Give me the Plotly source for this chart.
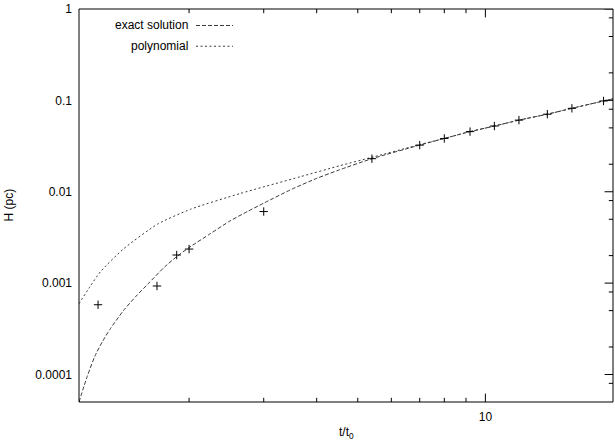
import plotly.graph_objects as go

# ---- data ----
exact_t = [1.10, 1.15, 1.20, 1.25, 1.30, 1.40, 1.50, 1.60, 1.75, 1.87, 2.0, 2.25, 2.5, 2.75, 3.0,
           3.5, 4.0, 4.5, 5.4, 7.0, 8.0, 9.2, 10.5, 12.0, 14.0, 16.0, 19.0, 20.0]
exact_H = [5.0e-5, 9.5e-5, 1.6e-4, 2.3e-4, 3.1e-4, 5.0e-4, 7.2e-4, 9.8e-4, 1.5e-3, 1.95e-3, 2.45e-3,
           3.5e-3, 4.8e-3, 6.1e-3, 7.5e-3, 0.0107, 0.0140, 0.0172, 0.0230, 0.0324, 0.0383, 0.0455,
           0.0524, 0.0608, 0.0706, 0.0819, 0.0985, 0.104]

poly_t = [1.10, 1.172, 1.237, 1.401, 1.685, 2.015, 2.64, 3.66, 4.54, 5.43, 7.0, 8.0, 9.2, 10.5,
          12.0, 14.0, 16.0, 19.0, 20.0]
poly_H = [5.96e-4, 9.4e-4, 1.34e-3, 2.37e-3, 4.42e-3, 6.43e-3, 9.57e-3, 0.0146, 0.0193, 0.0240,
          0.0328, 0.0383, 0.0455, 0.0524, 0.0608, 0.0706, 0.0819, 0.0985, 0.104]

data_t = [1.1, 1.22, 1.68, 1.87, 2.0, 3.0, 5.4, 7.0, 8.0, 9.2, 10.5, 12.0, 14.0, 16.0, 19.0]
data_H = [3.7e-4, 5.8e-4, 9.3e-4, 2.03e-3, 2.36e-3, 6.07e-3, 0.0230, 0.0324, 0.0383, 0.0455,
          0.0524, 0.0608, 0.0706, 0.0819, 0.0985]

x_major = [10]
x_major_text = ["10"]
x_minor = [2, 3, 4, 5, 6, 7, 8, 9]
y_major = [1e-4, 1e-3, 1e-2, 1e-1, 1]
y_major_text = ["0.0001", "0.001", "0.01", "0.1", "1"]
y_minor = [8e-5, 2e-4, 5e-4, 8e-4, 2e-3, 5e-3, 8e-3, 0.02, 0.05, 0.08, 0.2, 0.5, 0.8]

legend_labels = ["exact solution", "polynomial"]

# ---- figure ----
W, H = 615, 441
L, R, T, B = 79, 2, 4, 39
pw, ph = W - L - R, H - T - B
x_lo, x_hi = 1.1, 20.0
y_lo, y_hi = 5e-5, 1.0
x_range = [0.041393, 1.30103]
y_range = [-4.30103, 0.0]

exact_dash = "4px,2px"
poly_dash = "2px,2.5px"
line_col = "#3a3a3a"

fig = go.Figure()
fig.add_trace(go.Scatter(x=exact_t, y=exact_H, mode="lines", name=legend_labels[0],
                         line=dict(color=line_col, width=1, dash=exact_dash, shape="spline", smoothing=0.6),
                         showlegend=False, hoverinfo="skip"))
fig.add_trace(go.Scatter(x=poly_t, y=poly_H, mode="lines", name=legend_labels[1],
                         line=dict(color=line_col, width=1, dash=poly_dash, shape="spline", smoothing=0.6),
                         showlegend=False, hoverinfo="skip"))

# tick marks: line markers centred on each border, clipped by the plot area -> inside ticks
def tick_trace(xs, ys, symbol, size):
    return go.Scatter(x=xs, y=ys, mode="markers", showlegend=False, hoverinfo="skip",
                      cliponaxis=True,
                      marker=dict(symbol=symbol, size=size, color="black",
                                  line=dict(color="black", width=1)))

for vals, ln in ((x_major, 6), (x_minor, 3)):
    fig.add_trace(tick_trace(vals + vals, [y_lo] * len(vals) + [y_hi] * len(vals), "line-ns", 2 * ln))
for vals, ln in ((y_major, 6), (y_minor, 3)):
    fig.add_trace(tick_trace([x_lo] * len(vals) + [x_hi] * len(vals), vals + vals, "line-ew", 2 * ln))

fig.add_trace(go.Scatter(x=data_t, y=data_H, mode="markers", showlegend=False,
                         marker=dict(symbol="cross-thin", size=6, color="black",
                                     line=dict(color="black", width=1)),
                         cliponaxis=False, hoverinfo="skip"))

font = dict(family="Liberation Sans, Arial, sans-serif", size=12, color="black")

base = dict(type="log", showgrid=False, zeroline=False, tickmode="array", ticks="",
            showline=False, tickfont=font, ticklabeloverflow="allow")

fig.update_layout(
    width=W, height=H, margin=dict(l=L, r=R, t=T, b=B),
    paper_bgcolor="white", plot_bgcolor="white", font=font,
    xaxis=dict(**base, range=x_range, tickvals=x_major, ticktext=x_major_text, ticklabelstandoff=6),
    yaxis=dict(**base, range=y_range, tickvals=y_major, ticktext=y_major_text, ticklabelstandoff=6),
)

# frame
fig.add_shape(type="rect", xref="paper", yref="paper", x0=0, x1=1, y0=0, y1=1,
              line=dict(color="black", width=1), layer="above")

# axis titles
fig.add_annotation(text="t/t<sub>0</sub>", xref="paper", yref="paper", x=0.5, y=0,
                   xanchor="center", yanchor="middle", yshift=-31, showarrow=False, font=font)
fig.add_annotation(text="H (pc)", xref="paper", yref="paper", x=0, y=0.5, textangle=-90,
                   xanchor="center", yanchor="middle", xshift=-71, showarrow=False, font=font)

# legend (text right-aligned, sample to the right)
leg_text_right = 190
leg_rows = [20.7, 41.7]
leg_line = (196, 233)
for lab, yy, dash in zip(legend_labels, leg_rows, [exact_dash, poly_dash]):
    fig.add_annotation(text=lab, xref="paper", yref="paper",
                       x=(leg_text_right - L) / pw, y=1 - (yy - T) / ph,
                       xanchor="right", yanchor="middle", showarrow=False, font=font)
    fig.add_shape(type="line", xref="paper", yref="paper",
                  x0=(leg_line[0] - L) / pw, x1=(leg_line[1] - L) / pw,
                  y0=1 - (yy - T) / ph, y1=1 - (yy - T) / ph,
                  line=dict(color=line_col, width=1, dash=dash))

fig.write_html("out.html", config={"displayModeBar": False, "staticPlot": True},
               post_script="document.body.style.margin='0';")
